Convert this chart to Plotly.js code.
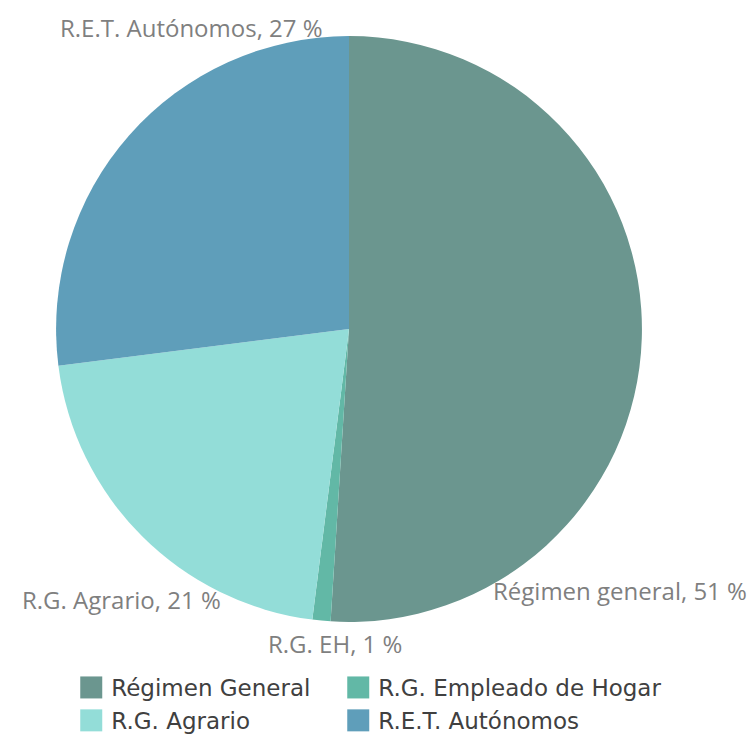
<!DOCTYPE html>
<html>
<head>
<meta charset="utf-8">
<script src="https://cdn.plot.ly/plotly-3.0.1.min.js"></script>
<style>
  html, body { margin: 0; padding: 0; background: #fff; }
  #chart { width: 750px; height: 736px; }
</style>
</head>
<body>
<div id="chart"></div>
<script>
// legend names and short names used in the slice labels
var legendNames = ['Régimen General', 'R.G. Empleado de Hogar', 'R.G. Agrario', 'R.E.T. Autónomos'];
var sliceNames = ['Régimen general', 'R.G. EH', 'R.G. Agrario', 'R.E.T. Autónomos'];
var percents = [51, 1, 21, 27];
var sliceColors = ['#6b968f', '#62b8a6', '#93ddd8', '#5f9eba'];

// where each label sits (paper coords), roughly like the excel "best fit"
var labelX = [0.826, 0.447, 0.162, 0.255];
var labelY = [0.198, 0.126, 0.185, 0.963];

var dataPie = [
    {
        type: 'pie',
        labels: legendNames,
        values: percents,
        sort: false,
        direction: 'clockwise',
        rotation: 0,
        textinfo: 'none',
        hoverinfo: 'label+percent',
        marker: {colors: sliceColors, line: {width: 0}},
        domain: {
            x: [0.0747, 0.856],
            y: [0.155, 0.951]
        }
    }
];

var notes = [];
for (var i = 0; i < sliceNames.length; i++) {
    notes.push({
        xref: 'paper', yref: 'paper',
        x: labelX[i], y: labelY[i],
        xanchor: 'center', yanchor: 'middle',
        text: sliceNames[i] + ', ' + percents[i] + ' %',
        showarrow: false,
        font: {family: 'Open Sans, sans-serif', size: 24, color: '#7f7f7f'}
    });
}

var layoutPie = {
    width: 750,
    height: 736,
    margin: {l: 0, r: 0, t: 0, b: 0},
    paper_bgcolor: '#fff',
    showlegend: true,
    legend: {
        orientation: 'h',
        x: 0.095, xanchor: 'left',
        y: 0, yanchor: 'bottom',
        entrywidth: 222,
        entrywidthmode: 'pixels',
        tracegroupgap: 0,
        itemwidth: 30,
        font: {family: 'DejaVu Sans, sans-serif', size: 23, color: '#404040'}
    },
    annotations: notes
};

Plotly.newPlot('chart', dataPie, layoutPie, {displayModeBar: false}).then(function () {
    // bigger square swatches, like the original legend
    document.querySelectorAll('.legendpoints path').forEach(function (p) {
        p.setAttribute('d', 'M11,11H-11V-11H11Z');
    });
    // don't cut off the long second column, and sit a bit lower
    document.querySelectorAll('.legend .scrollbox').forEach(function (g) {
        g.removeAttribute('clip-path');
    });
    var leg = document.querySelector('.legend');
    if (leg) {
        var t = leg.getAttribute('transform') || '';
        leg.setAttribute('transform', t + ' translate(0,6)');
    }
});
</script>
</body>
</html>
